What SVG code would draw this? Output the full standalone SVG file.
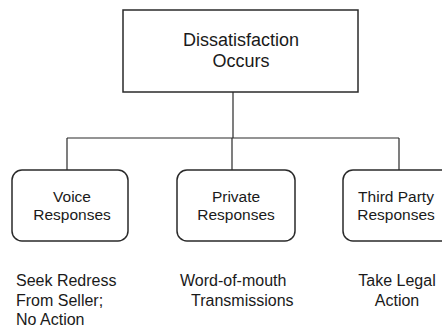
<svg xmlns="http://www.w3.org/2000/svg" width="442" height="329" viewBox="0 0 442 329">
<style>
.box{fill:#fff;stroke:#2a2a2a;stroke-width:1.5}
.ln{fill:none;stroke:#2a2a2a;stroke-width:1.2}
text{font-family:"Liberation Sans",Arial,sans-serif;fill:#1a1a1a}
.t1{font-size:18px;text-anchor:middle}
.t2{font-size:15.5px;text-anchor:middle}
.t3{font-size:16px}
</style>
<rect width="442" height="329" fill="#fff"/>
<g id="connectors">
<path class="ln" d="M233 92V138M67 138H399M67 138V170M232 138V170M399 138V170"/>
</g>
<g id="dissatisfaction">
<rect class="box" x="123" y="10" width="235" height="82"/>
<text class="t1" x="241" y="46">Dissatisfaction</text>
<text class="t1" x="241" y="67">Occurs</text>
</g>
<g id="voice">
<rect class="box" x="12" y="170" width="116" height="71" rx="10"/>
<text class="t2" x="72" y="202">Voice</text>
<text class="t2" x="72" y="220">Responses</text>
</g>
<g id="private">
<rect class="box" x="177" y="170" width="118" height="71" rx="10"/>
<text class="t2" x="236" y="202">Private</text>
<text class="t2" x="236" y="220">Responses</text>
</g>
<g id="thirdparty">
<rect class="box" x="343" y="170" width="120" height="71" rx="10"/>
<text class="t2" x="396" y="202">Third Party</text>
<text class="t2" x="396" y="220">Responses</text>
</g>
<g id="labels">
<text class="t3" x="16" y="286">Seek Redress</text>
<text class="t3" x="16" y="306">From Seller;</text>
<text class="t3" x="16" y="325">No Action</text>
<text class="t3" x="180" y="286">Word-of-mouth</text>
<text class="t3" x="191" y="306">Transmissions</text>
<text class="t3" x="397" y="286" text-anchor="middle">Take Legal</text>
<text class="t3" x="397" y="306" text-anchor="middle">Action</text>
</g>
</svg>
